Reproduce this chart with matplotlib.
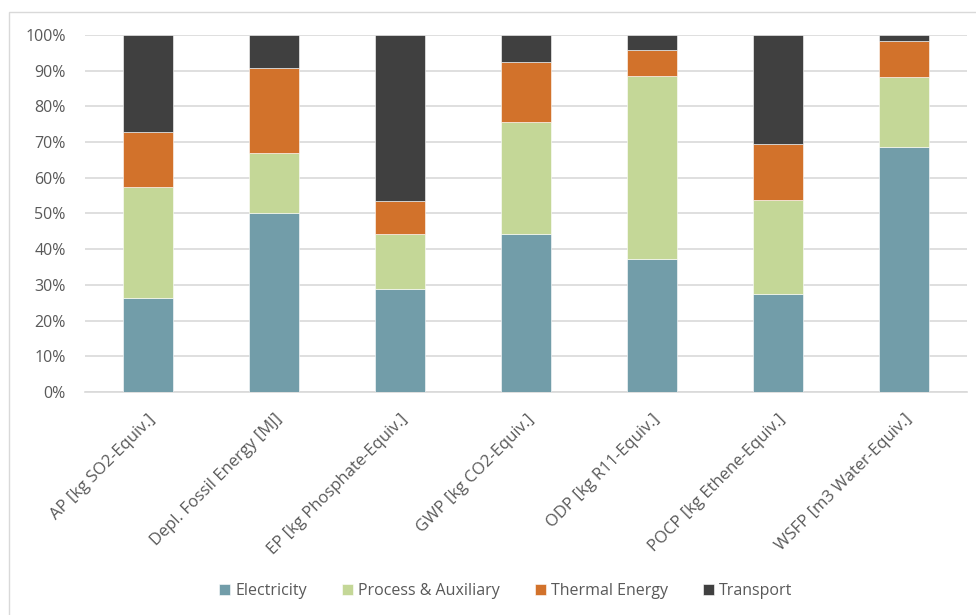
import matplotlib.pyplot as plt
import numpy as np
from matplotlib.patches import Rectangle

categories = ["AP [kg SO2-Equiv.]", "Depl. Fossil Energy [MJ]", "EP [kg Phosphate-Equiv.]",
              "GWP [kg CO2-Equiv.]", "ODP [kg R11-Equiv.]", "POCP [kg Ethene-Equiv.]",
              "WSFP [m3 Water-Equiv.]"]
electricity = [26.3, 50.2, 28.9, 44.3, 37.2, 27.4, 68.6]
process_aux = [31.1, 16.7, 15.4, 31.4, 51.3, 26.4, 19.7]
thermal = [15.4, 23.8, 9.2, 16.6, 7.3, 15.7, 9.9]
transport = [27.2, 9.3, 46.5, 7.7, 4.2, 30.5, 1.8]

series = [("Electricity", electricity, "#729DA9"),
          ("Process & Auxiliary", process_aux, "#C4D797"),
          ("Thermal Energy", thermal, "#D2722B"),
          ("Transport", transport, "#404040")]

plt.rcParams['font.family'] = ['Open Sans', 'DejaVu Sans']

fig = plt.figure(figsize=(9.76, 6.15), dpi=100)
ax = fig.add_axes([0.0871, 0.3626, 0.9039, 0.5805])

x = np.arange(len(categories))
bottom = np.zeros(len(categories))
for name, vals, col in series:
    vals = np.array(vals)
    ax.bar(x, vals, width=0.4, bottom=bottom, color=col, label=name,
           edgecolor="white", linewidth=0.4, zorder=3)
    bottom += vals

ax.set_xlim(-0.5, len(categories) - 0.5)
ax.set_ylim(0, 100)
ax.set_yticks(range(0, 101, 10))
ax.set_yticklabels([f"{v}%" for v in range(0, 101, 10)])
ax.grid(axis="y", color="#D9D9D9", linewidth=1.2, zorder=0)
ax.set_axisbelow(True)
for s in ["top", "right", "left"]:
    ax.spines[s].set_visible(False)
ax.spines["bottom"].set_color("#D9D9D9")
ax.spines["bottom"].set_linewidth(1.2)
ax.tick_params(axis="y", length=0, labelsize=11.5, labelcolor="#595959", pad=14)
ax.tick_params(axis="x", length=0, labelsize=12, labelcolor="#595959", pad=14)
ax.set_xticks(x)
ax.set_xticklabels(categories, rotation=45, ha="right", rotation_mode="anchor")

leg = fig.legend(loc="center", bbox_to_anchor=(0.518, 0.039), ncol=4, frameon=False,
                 fontsize=11.5, handlelength=0.7, handleheight=0.7, handletextpad=0.3,
                 columnspacing=2.2)
for t in leg.get_texts():
    t.set_color("#595959")

# light chart-area frame
fig.add_artist(Rectangle((9 / 976, -0.01), 1.0, 1 - 12 / 615 + 0.01, transform=fig.transFigure,
                         fill=False, edgecolor="#D9D9D9", linewidth=1))

fig.savefig("out.png", dpi=100)
